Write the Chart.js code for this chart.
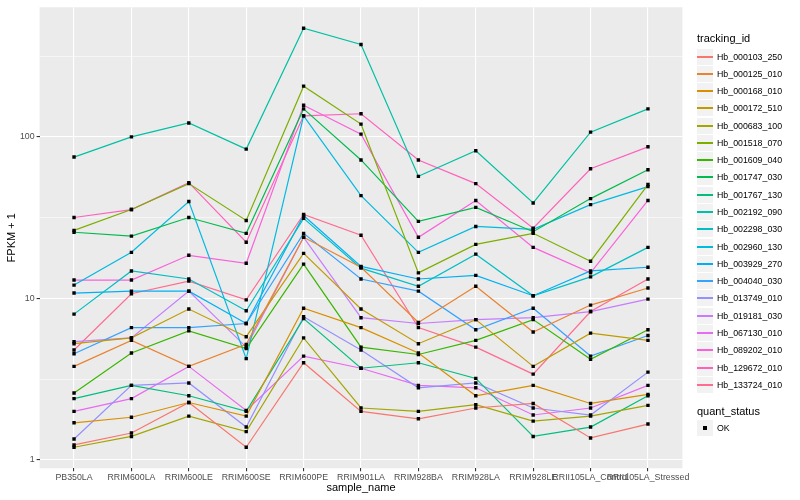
<!DOCTYPE html>
<html>
<head>
<meta charset="utf-8">
<script src="https://cdn.jsdelivr.net/npm/chart.js@4.4.1/dist/chart.umd.min.js"></script>
<style>
  body { margin: 0; background: #fff; font-family: "Liberation Sans", Arial, sans-serif; }
  #wrap { position: relative; width: 800px; height: 500px; }
  #legend { position: absolute; left: 690px; top: 0; width: 110px; height: 500px; }
  #legend div { position: absolute; white-space: nowrap; }
  .ltitle { left: 7px; font-size: 11px; color: #000; }
  .key { left: 7px; width: 16px; height: 16px; background: #F2F2F2; }
  .key span { position: absolute; left: 0; right: 0; top: 7px; height: 1.5px; }
  .lab { left: 27px; font-size: 8.8px; line-height: 17px; color: #000; }
</style>
</head>
<body>
<div id="wrap">
  <canvas id="chart" width="800" height="500"></canvas>
  <div id="legend"></div>
</div>
<script>
const samples = ['PB350LA', 'RRIM600LA', 'RRIM600LE', 'RRIM600SE', 'RRIM600PE', 'RRIM901LA',
  'RRIM928BA', 'RRIM928LA', 'RRIM928LE', 'RRII105LA_Control', 'RRII105LA_Stressed'];

const trackingIds = ['Hb_000103_250', 'Hb_000125_010', 'Hb_000168_010', 'Hb_000172_510', 'Hb_000683_100',
  'Hb_001518_070', 'Hb_001609_040', 'Hb_001747_030', 'Hb_001767_130', 'Hb_002192_090',
  'Hb_002298_030', 'Hb_002960_130', 'Hb_003929_270', 'Hb_004040_030', 'Hb_013749_010',
  'Hb_019181_030', 'Hb_067130_010', 'Hb_089202_010', 'Hb_129672_010', 'Hb_133724_010'];

const lineColors = ['#F8766D', '#EA8331', '#D89000', '#C09B00', '#A3A500', '#7CAE00', '#39B600', '#00BB4E',
  '#00BF7D', '#00C1A3', '#00BFC4', '#00BAE0', '#00B0F6', '#35A2FF', '#9590FF', '#C77CFF', '#E76BF3',
  '#FA62DB', '#FF62BC', '#FF6C91'];

// FPKM + 1, one value per sample
const hb000103_250 = [1.24, 1.47, 2.27, 1.2, 4.0, 2.0, 1.8, 2.1, 2.24, 1.37, 1.67];
const hb000125_010 = [3.8, 5.5, 3.8, 5.2, 23.9, 15.6, 7.1, 11.9, 6.2, 9.1, 11.6];
const hb000168_010 = [1.7, 1.84, 2.27, 1.87, 8.7, 6.6, 4.6, 2.5, 2.9, 2.24, 2.55];
const hb000172_510 = [5.25, 5.7, 8.6, 5.8, 19, 8.6, 5.25, 7.4, 3.8, 6.1, 5.5];
const hb000683_100 = [1.2, 1.4, 1.87, 1.5, 5.7, 2.1, 2.0, 2.2, 1.74, 1.87, 2.18];
const hb001518_070 = [26.4, 35.5, 51.4, 30.4, 206, 120, 14.4, 21.6, 25.3, 17, 50.7];
const hb001609_040 = [2.6, 4.6, 6.3, 4.9, 16.3, 5.0, 4.5, 5.5, 7.4, 4.2, 6.4];
const hb001747_030 = [25.7, 24.3, 31.7, 25.3, 149, 72, 30, 36.6, 25.9, 41.5, 62.6];
const hb001767_130 = [2.4, 2.9, 2.5, 2.0, 7.5, 3.7, 4.0, 3.2, 1.4, 1.6, 2.5];
const hb002192_090 = [75, 100, 122, 84, 470, 373, 57, 82, 39, 107, 149];
const hb002298_030 = [8.0, 14.8, 13.2, 8.4, 31.3, 15.4, 11.9, 18.8, 10.4, 13.6, 20.7];
const hb002960_130 = [12.1, 19.3, 39.8, 4.24, 135, 43.3, 19.3, 27.9, 26.8, 38.1, 49.2];
const hb003929_270 = [10.8, 11.1, 11.1, 7.0, 32.6, 15.8, 13.2, 13.9, 10.4, 14.8, 15.6];
const hb004040_030 = [4.55, 6.6, 6.6, 7.0, 25.3, 13.2, 11.1, 6.4, 8.7, 4.4, 5.9];
const hb013749_010 = [1.35, 2.9, 3.0, 1.6, 7.7, 4.8, 2.8, 3.0, 2.1, 1.9, 3.5];
const hb019181_030 = [5.4, 5.7, 11.1, 5.0, 23.9, 7.6, 7.0, 7.4, 7.6, 8.3, 9.9];
const hb067130_010 = [2.0, 2.4, 3.8, 2.03, 4.4, 3.7, 2.9, 2.8, 1.9, 2.1, 2.9];
const hb089202_010 = [13, 13, 18.5, 16.5, 157, 104, 23.9, 40.4, 20.7, 14.4, 40.4];
const hb129672_010 = [31.7, 35.5, 52.1, 22.3, 135, 139, 72, 51.4, 27.2, 63.5, 86.8];
const hb133724_010 = [4.8, 10.7, 12.8, 9.8, 33.1, 24.6, 6.6, 5.0, 3.4, 8.3, 13.2];

const series = [hb000103_250, hb000125_010, hb000168_010, hb000172_510, hb000683_100, hb001518_070,
  hb001609_040, hb001747_030, hb001767_130, hb002192_090, hb002298_030, hb002960_130, hb003929_270,
  hb004040_030, hb013749_010, hb019181_030, hb067130_010, hb089202_010, hb129672_010, hb133724_010];

const yTicks = [0.316, 1, 3.16, 10, 31.6, 100, 316];
const yLabels = [1, 10, 100];

const panelBg = {
    id: 'panelBg',
    beforeDraw(chart) {
        const { ctx, chartArea: a } = chart;
        ctx.save();
        ctx.fillStyle = '#EBEBEB';
        ctx.fillRect(a.left, a.top, a.right - a.left, a.bottom - a.top);
        ctx.restore();
    }
};

const datasets = series.map((vals, i) => ({
    label: trackingIds[i],
    data: vals.map((v, j) => ({ x: j, y: v })),
    borderColor: lineColors[i],
    borderWidth: 1.2,
    pointRadius: 0,
    tension: 0,
    order: 1
}));

datasets.push({
    label: 'OK',
    data: series.flatMap(vals => vals.map((v, j) => ({ x: j, y: v }))),
    showLine: false,
    pointStyle: 'rect',
    pointRadius: 2.4,
    backgroundColor: '#000',
    borderWidth: 0,
    order: 0
});

const isMajor = c => c.tick && yLabels.includes(c.tick.value);

new Chart(document.getElementById('chart').getContext('2d'), {
    type: 'line',
    data: { datasets },
    options: {
        responsive: false,
        animation: false,
        layout: { padding: { top: 4.7, right: 117.6, bottom: 0, left: 0 } },
        plugins: { legend: { display: false }, tooltip: { enabled: false } },
        scales: {
            x: {
                type: 'linear',
                min: -0.6,
                max: 10.6,
                afterBuildTicks: axis => { axis.ticks = samples.map((s, i) => ({ value: i })); },
                afterFit: axis => { axis.height = 31.7; },
                ticks: {
                    callback: v => samples[v],
                    autoSkip: false, maxRotation: 0, minRotation: 0,
                    color: '#4D4D4D', font: { family: 'Liberation Sans', size: 8.8 }, padding: 1
                },
                grid: { color: '#fff', lineWidth: 1.1, tickColor: '#333', tickLength: 3 },
                border: { display: false },
                title: { display: true, text: 'sample_name', color: '#000', font: { family: 'Liberation Sans', size: 11 }, padding: { top: 0, bottom: 5 } }
            },
            y: {
                type: 'logarithmic',
                min: 0.889,
                max: 634,
                afterBuildTicks: axis => { axis.ticks = yTicks.map(v => ({ value: v })); },
                afterFit: axis => { axis.width = 39.6; },
                ticks: {
                    callback: v => yLabels.includes(v) ? String(v) : '',
                    color: '#4D4D4D', font: { family: 'Liberation Sans', size: 8.8 }, padding: 2
                },
                grid: {
                    color: '#fff',
                    lineWidth: c => isMajor(c) ? 1.1 : 0.55,
                    tickColor: c => isMajor(c) ? '#333' : 'rgba(0,0,0,0)',
                    tickLength: 3
                },
                border: { display: false },
                title: { display: true, text: 'FPKM + 1', color: '#000', font: { family: 'Liberation Sans', size: 11 }, padding: { top: 5, bottom: 0 } }
            }
        }
    },
    plugins: [panelBg]
});

// legend on the right, built from the same arrays
const legend = document.getElementById('legend');
let html = '<div class="ltitle" style="top:32px">tracking_id</div>';
trackingIds.forEach((id, i) => {
    const top = Math.round(48.5 + i * 17.28);
    html += `<div class="key" style="top:${top}px"><span style="background:${lineColors[i]}"></span></div>`;
    html += `<div class="lab" style="top:${top}px">${id}</div>`;
});
html += '<div class="ltitle" style="top:405px">quant_status</div>';
html += '<div class="key" style="top:420px"><span style="left:6px;right:auto;top:6px;width:4px;height:4px;background:#000"></span></div>';
html += '<div class="lab" style="top:420px">OK</div>';
legend.innerHTML = html;
</script>
</body>
</html>
